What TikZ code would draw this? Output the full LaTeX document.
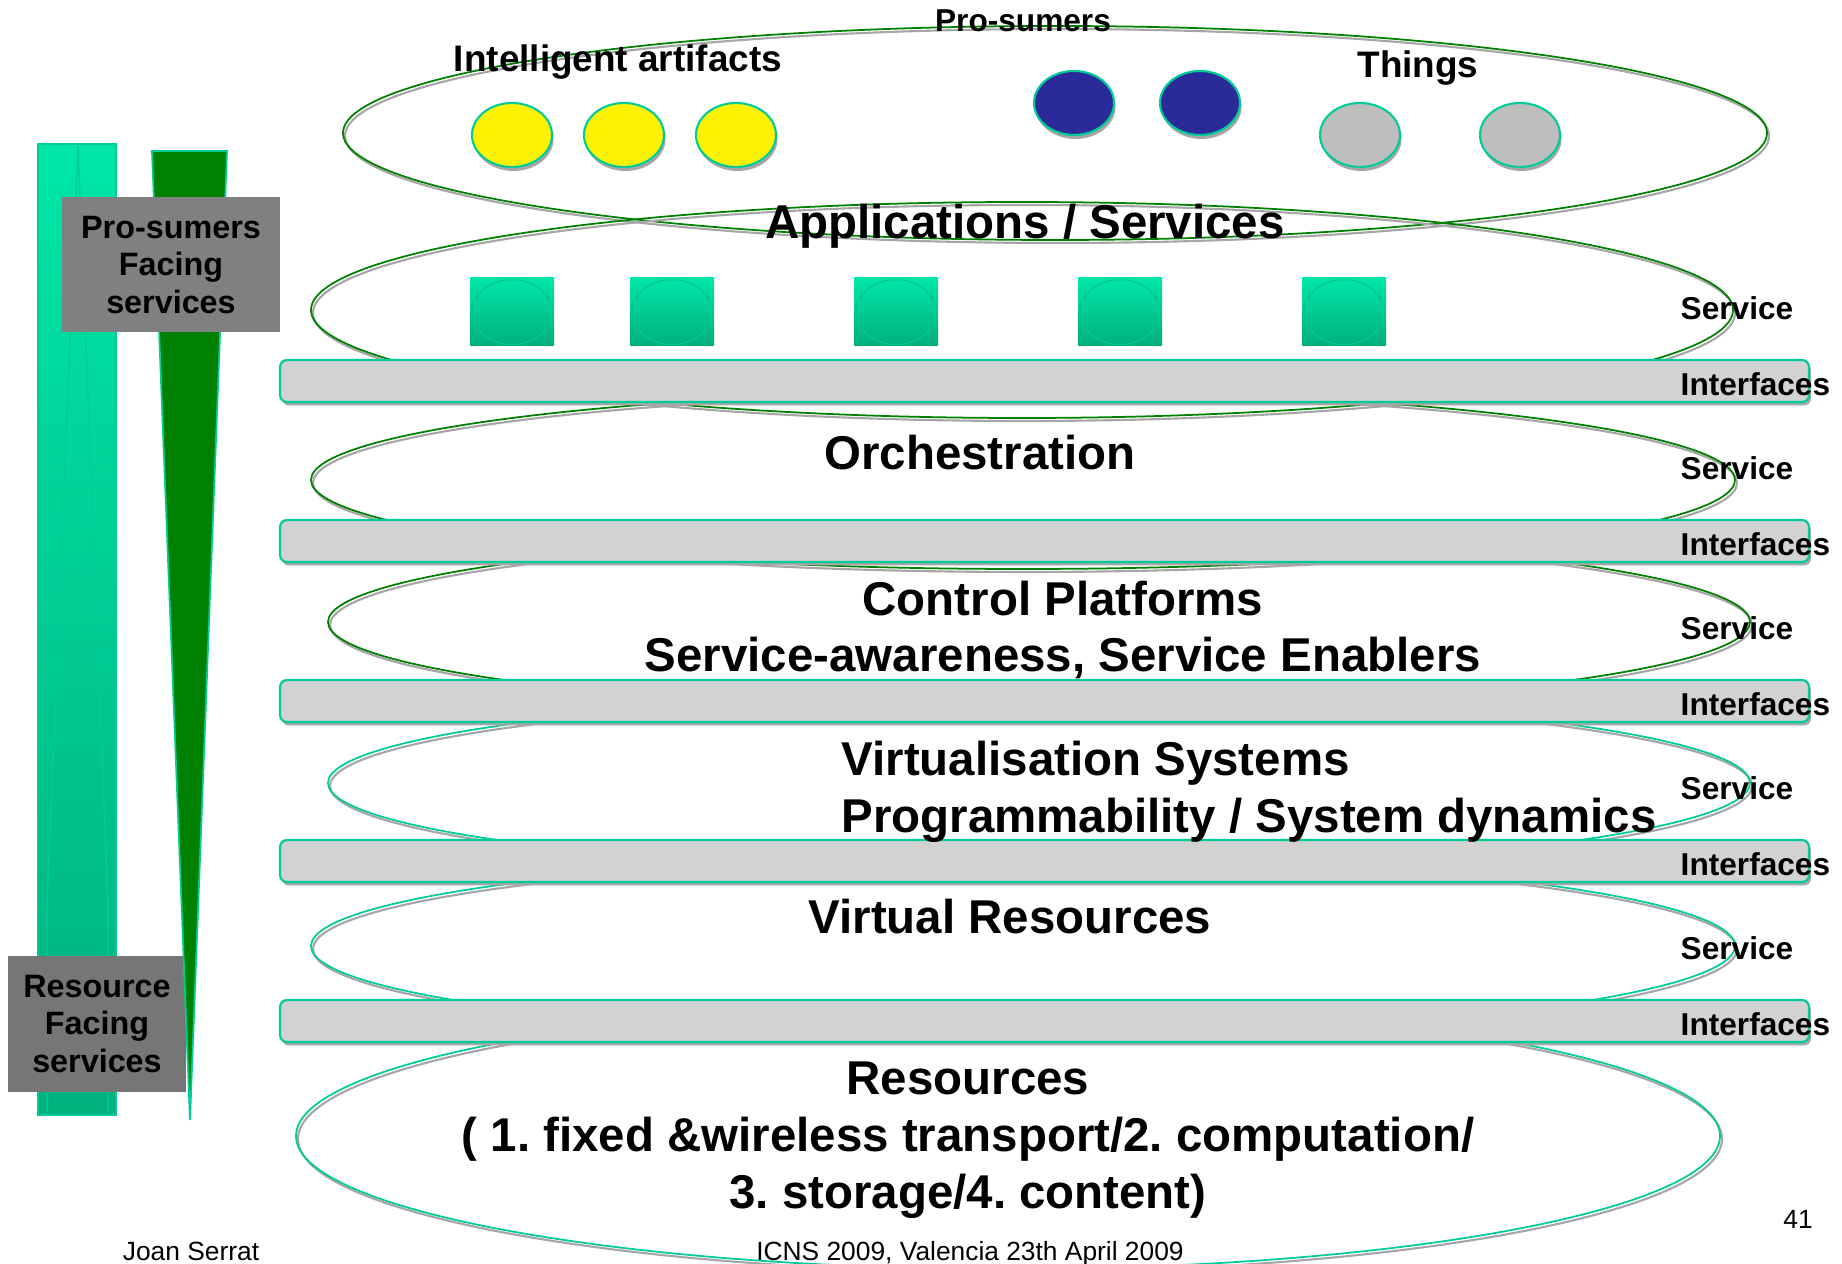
\documentclass[tikz,border=0pt]{standalone}
\usepackage{fontspec}
\setmainfont{Liberation Sans}
\usepackage{tikz}
\usetikzlibrary{shapes.geometric,shadows}
\frenchspacing

\definecolor{tealline}{HTML}{00CC99}
\definecolor{innerteal}{HTML}{00C892}
\definecolor{leafgreen}{HTML}{008000}
\definecolor{mintop}{HTML}{00E6A8}
\definecolor{minbot}{HTML}{00B07C}
\definecolor{barfill}{HTML}{D2D2D2}
\definecolor{shadegray}{HTML}{A6A6A6}
\definecolor{navyblob}{HTML}{2A2A99}
\definecolor{thinggray}{HTML}{BEBEBE}
\definecolor{boxgray}{HTML}{808080}
\definecolor{boxgraydark}{HTML}{767676}

\tikzset{
  ring/.style={draw=#1, line width=0.5pt},
  ringshade/.style={draw=shadegray, line width=0.6pt, xshift=0.2mm, yshift=-0.3mm},
  ifbar/.style={rectangle, draw=tealline, line width=0.6pt, fill=barfill, rounded corners=0.7mm,
    minimum width=152.9mm, minimum height=4.2mm, inner sep=0pt,
    drop shadow={shadow xshift=0.2mm, shadow yshift=-0.35mm, fill=shadegray, opacity=1}},
  blob/.style={ellipse, draw=tealline, line width=0.6pt, fill=#1, minimum width=8mm,
    minimum height=6.4mm, inner sep=0pt,
    drop shadow={shadow xshift=0.15mm, shadow yshift=-0.4mm, fill=shadegray, opacity=1}},
  appbox/.style={rectangle, minimum width=8.4mm, minimum height=6.8mm, inner sep=0pt,
    top color=mintop, bottom color=minbot,
    path picture={\draw[innerteal, line width=0.4pt] (path picture bounding box.center)
      ellipse [x radius=4mm, y radius=3.25mm];}},
  facing/.style={rectangle, fill=#1, align=center, inner sep=0pt,
    font=\fontsize{9.2}{10.7}\selectfont\bfseries},
  layertext/.style={inner sep=0pt, font=\fontsize{13.5}{16.2}\selectfont\bfseries},
  sidetag/.style={inner sep=0pt, font=\fontsize{9}{10.8}\selectfont\bfseries},
  grouptag/.style={inner sep=0pt, font=\fontsize{10.5}{12.6}\selectfont\bfseries},
  foot/.style={inner sep=0pt, font=\fontsize{7.5}{9}\selectfont},
}

\begin{document}
\begin{tikzpicture}[x=0.1mm, y=-0.1mm]
\useasboundingbox (0,0) rectangle (1842,1264);

% side bars
\draw[tealline, line width=0.4pt, top color=mintop, bottom color=minbot] (38,144) rectangle (116,1115);
\draw[tealline, line width=0.4pt] (78,146) -- (47,905) -- (47,1112);
\draw[tealline, line width=0.4pt] (78,146) -- (108,905) -- (108,1112);
\node[facing=boxgraydark, minimum width=17.8mm, minimum height=13.6mm] (resfacing) at (97,1024) {Resource\\Facing\\services};
\filldraw[fill=leafgreen, draw=tealline, line width=0.5pt] (152,151) -- (227,151) -- (190,1120) -- cycle;
\node[facing=boxgray, minimum width=21.8mm, minimum height=13.5mm] (prosfacing) at (171,265) {Pro-sumers\\Facing\\services};

% layer rings
\draw[ringshade] (1055,133) ellipse [x radius=71.2mm, y radius=10.7mm];
\draw[ring=leafgreen] (1055,133) ellipse [x radius=71.2mm, y radius=10.7mm];
\draw[ringshade] (1022,310) ellipse [x radius=71.1mm, y radius=10.8mm];
\draw[ring=leafgreen] (1022,310) ellipse [x radius=71.1mm, y radius=10.8mm];
\draw[ringshade] (1023,480) ellipse [x radius=71.2mm, y radius=8.9mm];
\draw[ring=leafgreen] (1023,480) ellipse [x radius=71.2mm, y radius=8.9mm];
\draw[ringshade] (1039,622) ellipse [x radius=71.1mm, y radius=8.8mm];
\draw[ring=leafgreen] (1039,622) ellipse [x radius=71.1mm, y radius=8.8mm];
\draw[ringshade] (1039,783) ellipse [x radius=71.1mm, y radius=8.8mm];
\draw[ring=tealline] (1039,783) ellipse [x radius=71.1mm, y radius=8.8mm];
\draw[ringshade] (1023,946) ellipse [x radius=71.2mm, y radius=9mm];
\draw[ring=tealline] (1023,946) ellipse [x radius=71.2mm, y radius=9mm];
\draw[ringshade] (1008,1136) ellipse [x radius=71.2mm, y radius=13.3mm];
\draw[ring=tealline] (1008,1136) ellipse [x radius=71.2mm, y radius=13.3mm];

% artifacts, pro-sumers, things
\node[blob=yellow] (art1) at (512,135) {};
\node[blob=yellow] (art2) at (624,135) {};
\node[blob=yellow] (art3) at (736,135) {};
\node[blob=navyblob] (pro1) at (1074,103) {};
\node[blob=navyblob] (pro2) at (1200,103) {};
\node[blob=thinggray] (thing1) at (1360,135) {};
\node[blob=thinggray] (thing2) at (1520,135) {};

% services
\node[appbox] (app1) at (512,312) {};
\node[appbox] (app2) at (672,312) {};
\node[appbox] (app3) at (896,312) {};
\node[appbox] (app4) at (1120,312) {};
\node[appbox] (app5) at (1344,312) {};

% interface bars
\node[ifbar] (bar1) at (1044.5,381) {};
\node[ifbar] (bar2) at (1044.5,541) {};
\node[ifbar] (bar3) at (1044.5,701) {};
\node[ifbar] (bar4) at (1044.5,861) {};
\node[ifbar] (bar5) at (1044.5,1021) {};

% texts
\node[sidetag, anchor=base] (prosumers) at (1023,32) {Pro-sumers};
\node[grouptag, anchor=base] (artifacts) at (618,72) {Intelligent artifacts};
\node[grouptag, anchor=base] (things) at (1418,78) {Things};
\node[layertext, anchor=base] (apps) at (1025,239) {Applications / Services};
\node[layertext, anchor=base] (orch) at (980,470) {Orchestration};
\node[layertext, align=center] (control) at (1063,630) {Control Platforms\\Service-awareness, Service Enablers};
\node[layertext, align=left, anchor=west] (virt) at (841,792) {Virtualisation Systems\\Programmability / System dynamics};
\node[layertext, anchor=base] (vres) at (1010,934) {Virtual Resources};
\node[layertext, align=center] (res) at (968,1140) {Resources\\( 1. fixed \&wireless transport/2. computation/\\3. storage/4. content)};

\node[sidetag, anchor=base west] (svc1) at (1680,320) {Service};
\node[sidetag, anchor=base west] (svc2) at (1680,480) {Service};
\node[sidetag, anchor=base west] (svc3) at (1680,640) {Service};
\node[sidetag, anchor=base west] (svc4) at (1680,800) {Service};
\node[sidetag, anchor=base west] (svc5) at (1680,960) {Service};
\node[sidetag, anchor=base west] (ifc1) at (1680,396) {Interfaces};
\node[sidetag, anchor=base west] (ifc2) at (1680,556) {Interfaces};
\node[sidetag, anchor=base west] (ifc3) at (1680,716) {Interfaces};
\node[sidetag, anchor=base west] (ifc4) at (1680,876) {Interfaces};
\node[sidetag, anchor=base west] (ifc5) at (1680,1036) {Interfaces};

% footer
\node[foot, anchor=base] (author) at (191,1261) {Joan Serrat};
\node[foot, anchor=base] (venue) at (970,1261) {ICNS 2009, Valencia 23th April 2009};
\node[foot, anchor=base] (pageno) at (1798,1228) {41};

\end{tikzpicture}
\end{document}
